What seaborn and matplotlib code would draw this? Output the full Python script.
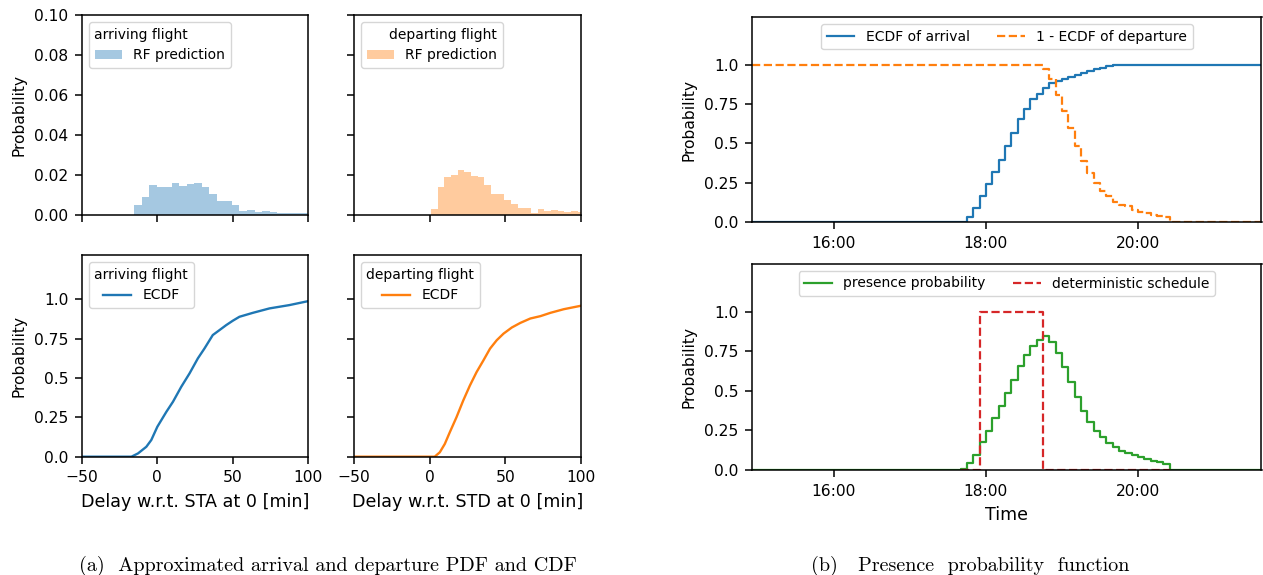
import numpy as np
import pandas as pd
import matplotlib
matplotlib.use("Agg")
import matplotlib.pyplot as plt
import matplotlib.dates as mdates
import seaborn as sns

# ---------------- data: RF-predicted delay densities (histograms) ----------------
arr_hist_start = -20.5
arr_hist_width = 5.0
arr_hist_density = [0.0002, 0.0052, 0.0092, 0.0152, 0.0142, 0.0140, 0.0158, 0.0147,
                    0.0157, 0.0162, 0.0142, 0.0107, 0.0068, 0.0068, 0.0048, 0.0022,
                    0.0025, 0.0013, 0.0018, 0.0013, 0.0010, 0.0010, 0.0010, 0.0009,
                    0.0009]
dep_hist_start = 1.0
dep_hist_width = 4.4
dep_hist_density = [0.0032, 0.0142, 0.0192, 0.0198, 0.0223, 0.0213, 0.0193, 0.0190,
                    0.0148, 0.0103, 0.0103, 0.0073, 0.0057, 0.0033, 0.0033, 0.0008,
                    0.0028, 0.0020, 0.0025, 0.0020, 0.0013, 0.0018, 0.0015]

# ---------------- data: ECDFs of delay ----------------
arr_ecdf_delay = [-50, -17.2, -12.8, -7.3, -4, 0, 6, 10.4, 15.9, 21.4, 26.9, 31.3,
                  36.8, 41.2, 45.7, 50.1, 54.5, 63.4, 74.4, 87.6, 100]
arr_ecdf_prob = [0, 0, 0.021, 0.063, 0.106, 0.19, 0.285, 0.349, 0.444, 0.529, 0.624,
                 0.687, 0.772, 0.803, 0.835, 0.863, 0.888, 0.913, 0.941, 0.962, 0.987]
dep_ecdf_delay = [-50, 3.3, 6.7, 10, 13.3, 17.7, 22.2, 26.6, 31, 35.5, 39.9, 44.3,
                  48.8, 54.3, 59.9, 66.5, 73.2, 79.8, 88.6, 100]
dep_ecdf_prob = [0, 0, 0.028, 0.081, 0.155, 0.25, 0.357, 0.452, 0.537, 0.611, 0.686,
                 0.739, 0.781, 0.820, 0.849, 0.877, 0.892, 0.913, 0.936, 0.958]

# ---------------- data: time-domain step functions (5-min steps) ----------------
day = "2021-06-01 "
time_start, time_end = "14:55", "21:40"
arr_step_start = "17:40"
arr_ecdf_steps = [0.005, 0.036, 0.089, 0.169, 0.244, 0.318, 0.398, 0.481, 0.566, 0.653,
                  0.720, 0.780, 0.816, 0.852, 0.881, 0.896, 0.911, 0.924, 0.936, 0.949,
                  0.960, 0.970, 0.979, 0.989, 1.0]
dep_step_start = "18:45"
dep_surv_steps = [0.975, 0.907, 0.809, 0.703, 0.597, 0.487, 0.388, 0.311, 0.250, 0.201,
                  0.165, 0.127, 0.112, 0.102, 0.080, 0.068, 0.059, 0.049, 0.042, 0.032,
                  0.0]
pres_step_start = "17:40"
presence_steps = [0.006, 0.042, 0.097, 0.175, 0.249, 0.328, 0.406, 0.486, 0.571, 0.655,
                  0.725, 0.784, 0.820, 0.848, 0.805, 0.736, 0.651, 0.556, 0.461, 0.370,
                  0.302, 0.249, 0.207, 0.169, 0.144, 0.123, 0.108, 0.095, 0.080, 0.068,
                  0.059, 0.051, 0.038, 0.0]
sched_times = ["17:40", "17:55", "18:45", "20:25"]
sched_values = [0, 1, 0, 0]


def step_frame(start, steps, pre_value):
    t = list(pd.date_range(day + start, periods=len(steps), freq="5min"))
    times = [pd.Timestamp(day + time_start)] + t + [pd.Timestamp(day + time_end)]
    vals = [pre_value] + list(steps) + [steps[-1]]
    return pd.DataFrame({"time": times, "p": vals})


# ---------------- figure ----------------
plt.rcParams["font.size"] = 11.2
plt.rcParams["xtick.labelsize"] = 11.2
plt.rcParams["ytick.labelsize"] = 11.2
plt.rcParams["legend.fontsize"] = 10
plt.rcParams["legend.title_fontsize"] = 10
for k in ("xtick", "ytick"):
    plt.rcParams[f"{k}.major.size"] = 4.9
    plt.rcParams[f"{k}.major.pad"] = 4.9
    plt.rcParams[f"{k}.major.width"] = 1.1
plt.rcParams["axes.linewidth"] = 1.1
plt.rcParams["axes.labelpad"] = 5.6
XL = 12.6
YL = 11.2
W, H = 1263, 575
fig = plt.figure(figsize=(W / 100, H / 100), dpi=100)


def rect(x0, y0, x1, y1):
    return [x0 / W, 1 - y1 / H, (x1 - x0) / W, (y1 - y0) / H]


ax_tl = fig.add_axes(rect(82, 15, 308, 215))
ax_tm = fig.add_axes(rect(354, 15, 581, 215))
ax_bl = fig.add_axes(rect(82, 255, 308, 456.7))
ax_bm = fig.add_axes(rect(354, 255, 581, 456.7))
ax_rt = fig.add_axes(rect(752.3, 17.3, 1261.5, 222.3))
ax_rb = fig.add_axes(rect(752.3, 264, 1261.5, 470))

# histograms
for ax, start, width, dens, color, title, align in [
        (ax_tl, arr_hist_start, arr_hist_width, arr_hist_density, "tab:blue", "arriving flight", "left"),
        (ax_tm, dep_hist_start, dep_hist_width, dep_hist_density, "tab:orange", "departing flight", "right")]:
    edges = [start + width * i for i in range(len(dens) + 1)]
    hist_df = pd.DataFrame({"delay": [e + width / 2 for e in edges[:-1]], "density": dens})
    sns.histplot(data=hist_df, x="delay", weights="density", bins=edges, ax=ax,
                 color=color, alpha=0.4, edgecolor="none", linewidth=0,
                 label="RF prediction")
    ax.set_xlim(-50, 100)
    ax.set_ylim(0, 0.1)
    ax.set_xticks([-50, 0, 50, 100])
    ax.set_xticklabels([])
    ax.set_xlabel("")
    ax.legend(title=title, loc="upper left", alignment=align)

ax_tl.set_yticks([0, 0.02, 0.04, 0.06, 0.08, 0.10])
ax_tl.set_yticklabels(["0.00", "0.02", "0.04", "0.06", "0.08", "0.10"])
ax_tl.set_ylabel("Probability", fontsize=YL)
ax_tm.set_yticks([0, 0.02, 0.04, 0.06, 0.08, 0.10])
ax_tm.set_yticklabels([])
ax_tm.set_ylabel("")

# ECDFs
prob_ticks = [0.0, 0.25, 0.5, 0.75, 1.0]
for ax, xs, ys, color, title, xlabel in [
        (ax_bl, arr_ecdf_delay, arr_ecdf_prob, "tab:blue", "arriving flight", "Delay w.r.t. STA at 0 [min]"),
        (ax_bm, dep_ecdf_delay, dep_ecdf_prob, "tab:orange", "departing flight", "Delay w.r.t. STD at 0 [min]")]:
    ecdf_df = pd.DataFrame({"delay": xs, "p": ys})
    sns.lineplot(data=ecdf_df, x="delay", y="p", ax=ax, color=color, lw=1.7,
                 label="ECDF", estimator=None)
    ax.set_xlim(-50, 100)
    ax.set_ylim(0, 1.28)
    ax.set_xticks([-50, 0, 50, 100])
    ax.set_yticks(prob_ticks)
    ax.set_xlabel(xlabel, fontsize=XL)
    ax.legend(title=title, loc="upper left")

ax_bl.set_yticklabels([str(v) for v in prob_ticks])
ax_bl.set_ylabel("Probability", fontsize=YL)
ax_bm.set_yticklabels([])
ax_bm.set_ylabel("")

# time-domain plots
arr_df = step_frame(arr_step_start, arr_ecdf_steps, 0.0)
dep_df = step_frame(dep_step_start, dep_surv_steps, 1.0)
pres_df = step_frame(pres_step_start, presence_steps, 0.0)
sched_df = pd.DataFrame({"time": [pd.Timestamp(day + t) for t in sched_times], "p": sched_values})

sns.lineplot(data=arr_df, x="time", y="p", ax=ax_rt, color="tab:blue", lw=1.6,
             drawstyle="steps-post", label="ECDF of arrival", estimator=None)
sns.lineplot(data=dep_df, x="time", y="p", ax=ax_rt, color="tab:orange", lw=1.6,
             linestyle="--", drawstyle="steps-post", label="1 - ECDF of departure", estimator=None)
sns.lineplot(data=pres_df, x="time", y="p", ax=ax_rb, color="tab:green", lw=1.6,
             drawstyle="steps-post", label="presence probability", estimator=None)
sns.lineplot(data=sched_df, x="time", y="p", ax=ax_rb, color="tab:red", lw=1.6,
             linestyle="--", drawstyle="steps-post", label="deterministic schedule", estimator=None)

for ax in (ax_rt, ax_rb):
    ax.set_xlim(pd.Timestamp(day + "14:55:36"), pd.Timestamp(day + "21:37:30"))
    ax.set_ylim(0, 1.3)
    ax.set_yticks(prob_ticks)
    ax.set_yticklabels([str(v) for v in prob_ticks])
    ax.xaxis.set_major_locator(mdates.HourLocator(byhour=[16, 18, 20]))
    ax.xaxis.set_major_formatter(mdates.DateFormatter("%H:%M"))
    ax.set_ylabel("Probability", fontsize=YL)
    ax.set_xlabel("")
    ax.legend(loc="upper center", ncol=2)
ax_rb.set_xlabel("Time", fontsize=XL)

# sub-figure captions
fig.text(328 / W, 1 - 566 / H, "(a)  Approximated arrival and departure PDF and CDF",
         ha="center", va="center", family="cmr10", fontsize=14.5)
fig.text(970 / W, 1 - 566 / H, "(b)   Presence  probability  function",
         ha="center", va="center", family="cmr10", fontsize=14.5)

fig.savefig("out.png", dpi=100)
